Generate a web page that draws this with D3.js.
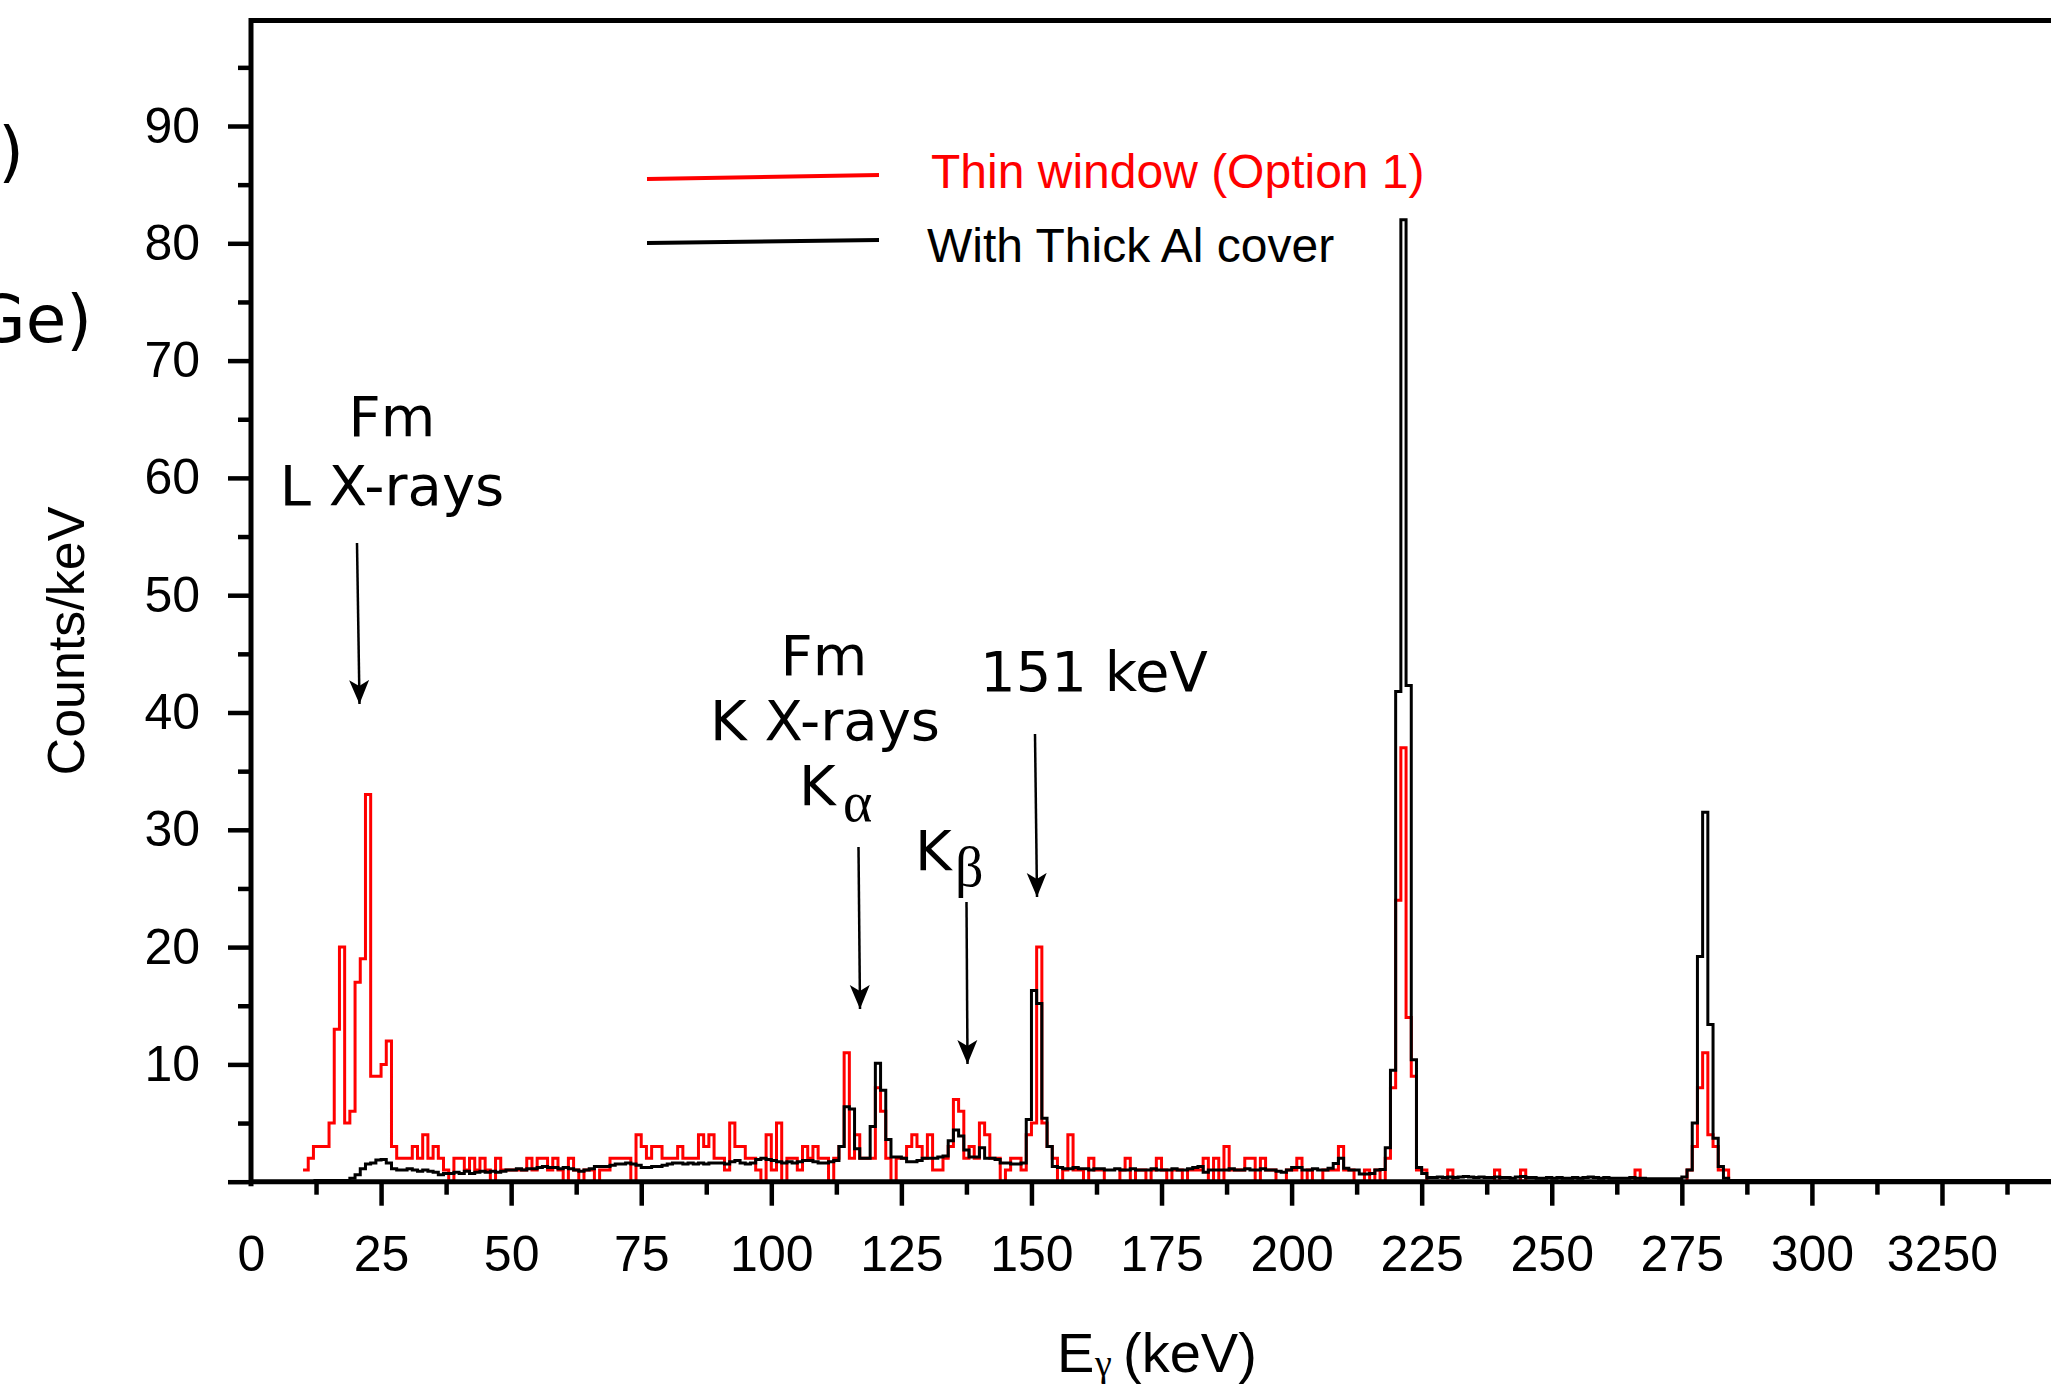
<!DOCTYPE html>
<html>
<head>
<meta charset="utf-8">
<script src="https://cdnjs.cloudflare.com/ajax/libs/d3/7.8.5/d3.min.js"></script>
<style>
  body { margin: 0; background: #fff; }
  svg text { font-family: "Liberation Sans", Arial, sans-serif; }
  svg text.dv { font-family: "DejaVu Sans", Verdana, sans-serif; }
  svg text.serif, svg tspan.serif { font-family: "Liberation Serif", serif; }
</style>
</head>
<body>
<div id="chart"></div>
<script>
// counts per 1 keV bin, first bin starts at redStart / blackStart (keV)
var redStart = 10;
var redCounts = [
  1, 2, 3, 3, 3, 5, 13, 20, 5, 6,          // 10
  17, 19, 33, 9, 9, 10, 12, 3, 2, 2,       // 20
  2, 3, 2, 4, 2, 3, 2, 1, 0, 2,            // 30
  2, 1, 2, 1, 2, 1, 0, 2, 1, 1,            // 40
  1, 1, 1, 2, 1, 2, 2, 1, 2, 1,            // 50
  0, 2, 1, 0, 1, 1, 0, 1, 1, 2,            // 60
  2, 2, 2, 0, 4, 3, 2, 3, 3, 2,            // 70
  2, 2, 3, 2, 2, 2, 4, 3, 4, 2,            // 80
  2, 1, 5, 3, 3, 2, 2, 1, 0, 4,            // 90
  1, 5, 0, 2, 2, 1, 3, 2, 3, 2,            // 100
  2, 0, 2, 3, 11, 2, 4, 2, 2, 2,           // 110
  8, 6, 2, 0, 2, 2, 3, 4, 3, 2,            // 120
  4, 1, 1, 2, 3, 7, 6, 2, 3, 2,            // 130
  5, 4, 2, 2, 0, 1, 2, 2, 1, 4,            // 140
  5, 20, 5, 3, 2, 0, 1, 4, 1, 1,           // 150
  0, 2, 1, 1, 0, 0, 0, 1, 2, 0,            // 160
  1, 1, 0, 1, 2, 1, 0, 1, 1, 0,            // 170
  1, 1, 1, 2, 0, 2, 0, 3, 1, 1,            // 180
  1, 2, 2, 0, 2, 1, 1, 0, 0, 1,            // 190
  1, 2, 0, 1, 0, 0, 1, 1, 1, 3,            // 200
  1, 1, 0, 0, 1, 0, 1, 0, 2, 8,            // 210
  24, 37, 14, 9, 1, 1, 0, 0, 0, 0,         // 220
  1, 0, 0, 0, 0, 0, 0, 0, 0, 1,            // 230
  0, 0, 0, 0, 1, 0, 0, 0, 0, 0,            // 240
  0, 0, 0, 0, 0, 0, 0, 0, 0, 0,            // 250
  0, 0, 0, 0, 0, 0, 1, 0, 0, 0,            // 260
  0, 0, 0, 0, 0, 0, 1, 3, 8, 11,           // 270
  4, 3, 1, 1, 0, 0, 0, 0, 0, 0,            // 280
  0, 0, 0, 0, 0, 0, 0, 0, 0, 0,            // 290
  0, 0, 0, 0, 0, 0, 0, 0, 0, 0,            // 300
  0, 0, 0, 0, 0, 0, 0, 0, 0, 0,            // 310
  0, 0, 0, 0, 0, 0, 0, 0, 0, 0,            // 320
  0, 0, 0, 0, 0, 0, 0, 0, 0, 0,            // 330
  0, 0, 0, 0, 0, 0                         // 340
];

var blackStart = 12;
var blackCounts = [
  0.1, 0.1, 0.1, 0.1, 0.1, 0.1, 0.1, 0.3,                      // 12
  0.6, 1.1, 1.5, 1.6, 1.85, 1.9, 1.6, 1.1, 1.0, 1.0,           // 20
  1.1, 1.0, 0.9, 1.0, 0.9, 0.8, 0.6, 0.7, 0.7, 0.8,            // 30
  0.7, 0.9, 0.7, 0.8, 0.9, 0.8, 0.9, 0.8, 0.9, 1.0,            // 40
  1.0, 1.1, 1.0, 1.1, 1.1, 1.2, 1.3, 1.2, 1.2, 1.1,            // 50
  1.2, 1.1, 1.0, 0.9, 1.0, 1.1, 1.3, 1.3, 1.3, 1.4,            // 60
  1.5, 1.5, 1.6, 1.5, 1.4, 1.2, 1.2, 1.3, 1.3, 1.4,            // 70
  1.5, 1.6, 1.6, 1.5, 1.6, 1.5, 1.6, 1.5, 1.6, 1.6,            // 80
  1.6, 1.5, 1.7, 1.8, 1.6, 1.5, 1.6, 1.9, 2.0, 1.9,            // 90
  1.8, 1.7, 1.6, 1.7, 1.6, 1.7, 1.8, 1.8, 1.7, 1.6,            // 100
  1.6, 1.7, 1.8, 3.0, 6.4, 6.2, 2.8, 2.0, 2.0, 4.7,            // 110
  10.1, 7.8, 3.6, 2.1, 2.1, 2.0, 1.7, 1.7, 1.8, 2.0,           // 120
  2.0, 2.0, 2.1, 2.2, 3.5, 4.4, 3.9, 2.7, 2.1, 2.1,            // 130
  2.9, 2.0, 2.0, 1.9, 1.6, 1.6, 1.5, 1.5, 1.6, 5.3,            // 140
  16.3, 15.2, 5.4, 3.0, 1.3, 1.2, 1.1, 1.1, 1.2, 1.1,          // 150
  1.1, 1.0, 1.1, 1.1, 1.0, 1.0, 1.1, 1.0, 1.0, 1.1,            // 160
  1.0, 1.0, 1.0, 1.1, 1.0, 1.0, 1.0, 1.1, 1.0, 1.0,            // 170
  1.1, 1.2, 1.3, 0.8, 1.0, 1.0, 1.0, 1.0, 1.1, 1.0,            // 180
  1.0, 1.1, 1.0, 1.0, 1.1, 1.0, 1.0, 0.9, 0.8, 1.0,            // 190
  1.2, 1.2, 1.0, 1.0, 1.1, 1.0, 1.0, 1.15, 1.55, 2.0,          // 200
  1.15, 1.0, 1.0, 0.65, 0.65, 0.7, 1.0, 1.05, 2.9, 9.5,        // 210
  41.8, 82, 42.3, 10.4, 1.2, 0.7, 0.35, 0.35, 0.4, 0.35,       // 220
  0.4, 0.35, 0.4, 0.45, 0.4, 0.35, 0.4, 0.35, 0.35, 0.4,       // 230
  0.35, 0.35, 0.3, 0.4, 0.45, 0.35, 0.35, 0.3, 0.3, 0.35,      // 240
  0.3, 0.35, 0.3, 0.3, 0.35, 0.3, 0.35, 0.4, 0.35, 0.3,        // 250
  0.35, 0.3, 0.3, 0.3, 0.3, 0.35, 0.3, 0.3, 0.25, 0.25,        // 260
  0.25, 0.25, 0.25, 0.25, 0.25, 0.4, 1.0, 5.0, 19.2, 31.5,     // 270
  13.4, 3.7, 1.3, 0.3, 0.1, 0.1, 0.1, 0.1, 0.1, 0.1,           // 280
  0.1, 0.1, 0.1, 0.1, 0.1, 0.1, 0.1, 0.1, 0.1, 0.1,            // 290
  0.1, 0.1, 0.1, 0.1, 0.1, 0.1, 0.1, 0.1, 0.1, 0.1,            // 300
  0.1, 0.1, 0.1, 0.1, 0.1, 0.1, 0.1, 0.1, 0.1, 0.1,            // 310
  0.1, 0.1, 0.1, 0.1, 0.1, 0.1, 0.1, 0.1, 0.1, 0.1,            // 320
  0.1, 0.1, 0.1, 0.1, 0.1, 0.1, 0.1, 0.1, 0.1, 0.1,            // 330
  0.1, 0.1, 0.1, 0.1, 0.1, 0.1                                 // 340
];

var xMajor = [0, 25, 50, 75, 100, 125, 150, 175, 200, 225, 250, 275, 300, 325];
var xTickLabels = ["0", "25", "50", "75", "100", "125", "150", "175", "200", "225", "250", "275", "300", "3250"];
var xMinor = [12.5, 37.5, 62.5, 87.5, 112.5, 137.5, 162.5, 187.5, 212.5, 237.5, 262.5, 287.5, 312.5, 337.5];
var yMajor = [0, 10, 20, 30, 40, 50, 60, 70, 80, 90];
var yTickLabels = ["", "10", "20", "30", "40", "50", "60", "70", "80", "90"];
var yMinor = [5, 15, 25, 35, 45, 55, 65, 75, 85, 95];
var seriesNames = ["Thin window (Option 1)", "With Thick Al cover"];
var seriesColors = ["#ff0000", "#000000"];

var W = 2051, H = 1385;
var svg = d3.select("#chart").append("svg")
  .attr("width", W).attr("height", H);

var x = d3.scaleLinear().domain([0, 350]).range([251, 251 + 350 * 5.203]);
var y = d3.scaleLinear().domain([0, 90]).range([1181.7, 126]);
var yTop = 99;

function stepPoints(start, counts) {
  var pts = counts.map(function(v, i) { return [start + i, v]; });
  pts.push([start + counts.length, counts[counts.length - 1]]);
  return pts;
}

var step = d3.line()
  .x(function(d) { return x(d[0]); })
  .y(function(d) { return y(d[1]); })
  .curve(d3.curveStepAfter);

var g = svg.append("g");

// spectra
g.append("path").datum(stepPoints(redStart, redCounts))
  .attr("d", step).attr("fill", "none")
  .attr("stroke", seriesColors[0]).attr("stroke-width", 3);
g.append("path").datum(stepPoints(blackStart, blackCounts))
  .attr("d", step).attr("fill", "none")
  .attr("stroke", seriesColors[1]).attr("stroke-width", 3);

// axes
function styleAxis(sel, fs) {
  sel.select(".domain").remove();
  sel.selectAll(".tick line").attr("stroke", "#000").attr("stroke-width", 4.5);
  sel.selectAll(".tick text").attr("fill", "#000")
    .style("font-size", fs + "px");
}

var gx = g.append("g").attr("transform", "translate(0," + y(0) + ")")
  .call(d3.axisBottom(x).tickValues(xMajor).tickSize(24).tickPadding(30)
    .tickFormat(function(d, i) { return xTickLabels[i]; }));
styleAxis(gx, 50);
gx.selectAll(".tick").filter(function(d) { return d === 0; }).select("line").remove();

var gxm = g.append("g").attr("transform", "translate(0," + y(0) + ")")
  .call(d3.axisBottom(x).tickValues(xMinor).tickSize(13).tickFormat(""));
styleAxis(gxm, 50);

var gy = g.append("g").attr("transform", "translate(" + x(0) + ",0)")
  .call(d3.axisLeft(y).tickValues(yMajor).tickSize(23).tickPadding(28)
    .tickFormat(function(d, i) { return yTickLabels[i]; }));
styleAxis(gy, 50);

var gym = g.append("g").attr("transform", "translate(" + x(0) + ",0)")
  .call(d3.axisLeft(y).tickValues(yMinor).tickSize(13).tickFormat(""));
styleAxis(gym, 50);

// frame lines
g.append("line").attr("x1", x(0)).attr("x2", W + 10)
  .attr("y1", y(0)).attr("y2", y(0))
  .attr("stroke", "#000").attr("stroke-width", 5);
g.append("line").attr("x1", x(0)).attr("x2", x(0))
  .attr("y1", y(0) + 2).attr("y2", y(yTop))
  .attr("stroke", "#000").attr("stroke-width", 5).attr("stroke-linecap", "square");
g.append("line").attr("x1", x(0)).attr("x2", W + 10)
  .attr("y1", y(yTop)).attr("y2", y(yTop))
  .attr("stroke", "#000").attr("stroke-width", 5);

// axis titles
g.append("text")
  .attr("transform", "translate(84,641) rotate(-90)")
  .attr("text-anchor", "middle")
  .style("font-size", "52px")
  .text("Counts/keV");

var xt = g.append("text").attr("y", 1372).style("font-size", "56px");
xt.append("tspan").attr("x", 1057).text("E");
xt.append("tspan").attr("class", "serif").attr("x", 1095).attr("y", 1376)
  .style("font-size", "38px").text("γ");
xt.append("tspan").attr("x", 1123).attr("y", 1372).text("(keV)");

// clipped text at the left edge
g.append("text").attr("class", "dv").attr("x", 24).attr("y", 174).attr("text-anchor", "end")
  .style("font-size", "66px").text(")");
g.append("text").attr("class", "dv").attr("x", 92).attr("y", 342).attr("text-anchor", "end")
  .style("font-size", "66px").text("Ge)");

// legend
var legend = g.append("g");
legend.append("line").attr("x1", 647).attr("y1", 179).attr("x2", 879).attr("y2", 175)
  .attr("stroke", seriesColors[0]).attr("stroke-width", 4);
legend.append("line").attr("x1", 647).attr("y1", 243).attr("x2", 879).attr("y2", 240)
  .attr("stroke", seriesColors[1]).attr("stroke-width", 4);
legend.append("text").attr("x", 931).attr("y", 188).attr("fill", seriesColors[0])
  .style("font-size", "48px").text(seriesNames[0]);
legend.append("text").attr("x", 927).attr("y", 262).attr("fill", seriesColors[1])
  .style("font-size", "48px").text(seriesNames[1]);

// annotations
svg.append("defs").append("marker")
  .attr("id", "arrow").attr("viewBox", "0 -11 26 22")
  .attr("refX", 24).attr("refY", 0)
  .attr("markerWidth", 26).attr("markerHeight", 22)
  .attr("markerUnits", "userSpaceOnUse").attr("orient", "auto")
  .append("path").attr("d", "M0,-10L24,0L0,10L6,0Z").attr("fill", "#000");

var ann = g.append("g");

function label(txt, xx, yy, anchor) {
  return ann.append("text").attr("class", "dv")
    .attr("x", xx).attr("y", yy)
    .attr("text-anchor", anchor || "middle")
    .style("font-size", "56px").text(txt);
}
function greek(txt, xx, yy) {
  return ann.append("text").attr("class", "serif")
    .attr("x", xx).attr("y", yy)
    .style("font-size", "56px").text(txt);
}
function arrow(x1, y1, x2, y2) {
  ann.append("line").attr("x1", x1).attr("y1", y1).attr("x2", x2).attr("y2", y2)
    .attr("stroke", "#000").attr("stroke-width", 2.5)
    .attr("marker-end", "url(#arrow)");
}

label("Fm", 392, 436);
label("L X-rays", 392, 505);
arrow(357, 543, 359.5, 704);

label("Fm", 824, 675);
label("K X-rays", 825, 740);
label("K", 799, 805, "start");
greek("α", 843, 821);
arrow(858.5, 847, 860, 1009);

label("K", 915, 870, "start");
greek("β", 955, 886);
arrow(966.5, 902, 967.5, 1064);

label("151 keV", 980, 691, "start");
arrow(1035, 734, 1037, 897);
</script>
</body>
</html>
